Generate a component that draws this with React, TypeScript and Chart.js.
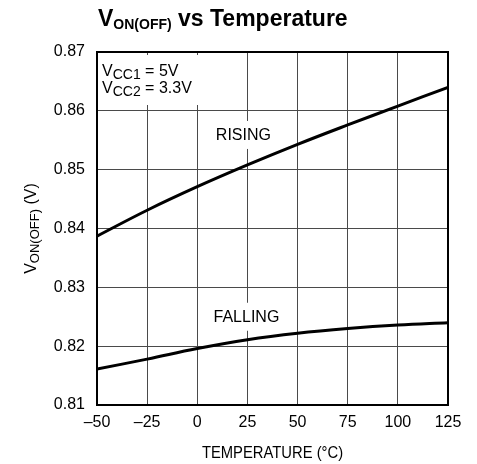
import React, { useEffect, useRef } from "react";
import { Chart, registerables } from "chart.js";

Chart.register(...registerables);

const temperatures = [-50, -25, 0, 25, 50, 75, 100, 125];
const risingValues = [0.8387, 0.8431, 0.8471, 0.8508, 0.8543, 0.8576, 0.8608, 0.864];
const fallingValues = [0.8161, 0.8178, 0.8196, 0.8211, 0.8222, 0.823, 0.8236, 0.824];
const xTickLabels = ["–50", "–25", "0", "25", "50", "75", "100", "125"];
const yTickLabels = ["0.81", "0.82", "0.83", "0.84", "0.85", "0.86", "0.87"];

const FONT = "'Liberation Sans', Arial, Helvetica, sans-serif";

type Part = { t: string; size: number; bold?: boolean; dy?: number };

function partsWidth(ctx: CanvasRenderingContext2D, parts: Part[]) {
  let w = 0;
  for (const p of parts) {
    ctx.font = `${p.bold ? "bold " : ""}${p.size}px ${FONT}`;
    w += ctx.measureText(p.t).width;
  }
  return w;
}

function drawParts(ctx: CanvasRenderingContext2D, parts: Part[], x: number, y: number) {
  let cx = x;
  ctx.textBaseline = "alphabetic";
  ctx.textAlign = "left";
  for (const p of parts) {
    ctx.font = `${p.bold ? "bold " : ""}${p.size}px ${FONT}`;
    ctx.fillText(p.t, cx, y + (p.dy || 0));
    cx += ctx.measureText(p.t).width;
  }
}

const annotPlugin = {
  id: "annotPlugin",
  beforeDatasetsDraw(chart: any) {
    const { ctx, chartArea, scales } = chart;
    const xs = scales.x;
    const ys = scales.y;
    ctx.save();
    ctx.fillStyle = "#fff";
    ctx.fillRect(chartArea.left + 1, chartArea.top + 3, 102, 50);
    const labels = [
      { text: "RISING", x: 23, y: 0.8559 },
      { text: "FALLING", x: 24.5, y: 0.825 },
    ];
    ctx.font = `16px ${FONT}`;
    for (const l of labels) {
      const px = xs.getPixelForValue(l.x);
      const py = ys.getPixelForValue(l.y);
      const w = ctx.measureText(l.text).width;
      ctx.fillStyle = "#fff";
      ctx.fillRect(px - w / 2 - 5, py - 14, w + 10, 28);
      ctx.fillStyle = "#000";
      ctx.textAlign = "center";
      ctx.textBaseline = "middle";
      ctx.fillText(l.text, px, py + 1);
    }
    ctx.fillStyle = "#000";
    drawParts(
      ctx,
      [
        { t: "V", size: 16 },
        { t: "CC1", size: 14, dy: 3 },
        { t: " = 5V", size: 16 },
      ],
      chartArea.left + 5,
      chartArea.top + 24
    );
    drawParts(
      ctx,
      [
        { t: "V", size: 16 },
        { t: "CC2", size: 14, dy: 3 },
        { t: " = 3.3V", size: 16 },
      ],
      chartArea.left + 5,
      chartArea.top + 41
    );
    ctx.strokeStyle = "#000";
    ctx.lineWidth = 2;
    ctx.strokeRect(chartArea.left, chartArea.top, chartArea.right - chartArea.left, chartArea.bottom - chartArea.top);
    ctx.restore();
  },
  afterDraw(chart: any) {
    const { ctx, chartArea } = chart;
    ctx.save();
    ctx.fillStyle = "#000";
    drawParts(
      ctx,
      [
        { t: "V", size: 23, bold: true },
        { t: "ON(OFF)", size: 14, bold: true, dy: 3 },
        { t: " vs Temperature", size: 23, bold: true },
      ],
      98,
      26
    );
    const cx = (chartArea.left + chartArea.right) / 2;
    ctx.save();
    ctx.translate(cx, 458);
    ctx.scale(0.87, 1);
    ctx.font = `17px ${FONT}`;
    ctx.textAlign = "center";
    ctx.textBaseline = "alphabetic";
    ctx.fillText("TEMPERATURE (°C)", 0, 0);
    ctx.restore();
    const yParts: Part[] = [
      { t: "V", size: 16 },
      { t: "ON(OFF)", size: 13, dy: 3 },
      { t: " (V)", size: 16 },
    ];
    const cy = (chartArea.top + chartArea.bottom) / 2;
    ctx.save();
    ctx.translate(36, cy);
    ctx.rotate(-Math.PI / 2);
    const w = partsWidth(ctx, yParts);
    drawParts(ctx, yParts, -w / 2, 0);
    ctx.restore();
    ctx.restore();
  },
};

export default function App() {
  const ref = useRef<HTMLCanvasElement | null>(null);
  useEffect(() => {
    if (!ref.current) return;
    const chart = new Chart(ref.current, {
      type: "line",
      data: {
        datasets: [
          {
            label: "RISING",
            data: temperatures.map((t, i) => ({ x: t, y: risingValues[i] })),
            borderColor: "#000",
            borderWidth: 3,
            pointRadius: 0,
            tension: 0.4,
          },
          {
            label: "FALLING",
            data: temperatures.map((t, i) => ({ x: t, y: fallingValues[i] })),
            borderColor: "#000",
            borderWidth: 3,
            pointRadius: 0,
            tension: 0.4,
          },
        ],
      },
      options: {
        animation: false,
        responsive: false,
        devicePixelRatio: 1,
        layout: { padding: { top: 52, right: 29, left: 0, bottom: 0 } },
        plugins: { legend: { display: false }, tooltip: { enabled: false }, title: { display: false } },
        scales: {
          x: {
            type: "linear",
            min: -50,
            max: 125,
            ticks: {
              stepSize: 25,
              padding: 8,
              color: "#000",
              font: { family: FONT, size: 16 },
              maxRotation: 0,
              callback: (_v: any, i: number) => xTickLabels[i],
            },
            grid: { color: "#4a4a4a", lineWidth: 1, drawTicks: false },
            border: { display: false },
            afterFit: (s: any) => {
              s.height = 59;
            },
          },
          y: {
            type: "linear",
            min: 0.81,
            max: 0.87,
            ticks: {
              stepSize: 0.01,
              padding: 12,
              color: "#000",
              font: { family: FONT, size: 16 },
              callback: (_v: any, i: number) => yTickLabels[i],
            },
            grid: { color: "#4a4a4a", lineWidth: 1, drawTicks: false },
            border: { display: false },
            afterFit: (s: any) => {
              s.width = 97;
            },
          },
        },
      },
      plugins: [annotPlugin],
    } as any);
    return () => chart.destroy();
  }, []);
  return (
    <div style={{ position: "fixed", left: 0, top: 0, width: 477, height: 464, background: "#fff" }}>
      <canvas ref={ref} width={477} height={464} style={{ width: 477, height: 464 }} />
    </div>
  );
}
